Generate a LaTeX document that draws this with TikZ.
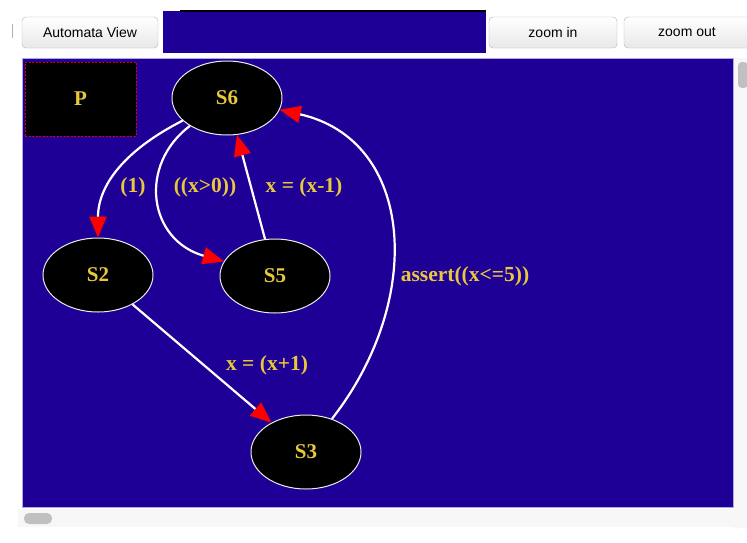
\documentclass[tikz,border=0pt]{standalone}
\usepackage{fontspec}
\setmainfont{Liberation Serif}
\newfontfamily\uifont{Liberation Sans}
\usetikzlibrary{arrows.meta,shapes.geometric}
\definecolor{bgblue}{RGB}{31,0,150}
\definecolor{lab}{RGB}{232,200,60}
\definecolor{frame}{RGB}{176,168,224}
\definecolor{barbg}{RGB}{247,247,247}
\definecolor{thumb}{RGB}{192,192,192}
\begin{document}
\begin{tikzpicture}[x=1pt,y=-1pt,
  state/.style={ellipse, fill=black, draw=white!85!gray, line width=1pt,
    minimum width=110pt, minimum height=74pt, inner sep=0pt, text=lab,
    font=\bfseries\fontsize{21}{23}\selectfont},
  edge/.style={white, line width=2.2pt,
    -{Triangle[length=21pt,width=17pt,color=red,fill=red]}},
  lbl/.style={text=lab, font=\bfseries\fontsize{21.5}{23}\selectfont, inner sep=0pt},
  btn/.style={rounded corners=4pt, draw=gray!60, top color=white, bottom color=gray!18,
    font=\uifont\fontsize{14}{16}\selectfont, minimum height=31pt, inner sep=0pt}]
\useasboundingbox (0,0) rectangle (747,542);
\fill[white] (0,0) rectangle (747,542);
% toolbar
\draw[gray!60, line width=1pt] (12,24) -- (12,38);
\node[btn, minimum width=136pt] (bav) at (90,32.5) {Automata View};
\fill[bgblue] (163,11) rectangle (486,53);
\fill[black] (180,9.5) rectangle (486,12);
\node[btn, minimum width=128pt] (bzi) at (553,32.5) {zoom in};
\node[btn, minimum width=130pt] (bzo) at (689,32.5) {};
\node[font=\uifont\fontsize{14}{16}\selectfont] (tzo) at (687,32.5) {zoom out};
% scroll bars
\fill[barbg] (734,58) rectangle (747,528);
\fill[barbg] (18,509) rectangle (734,527);
\fill[thumb, rounded corners=4pt] (738,62) rectangle (748,88);
\fill[thumb, rounded corners=5pt] (24,513) rectangle (52,524);
% canvas
\fill[bgblue] (22,58) rectangle (733,507);
\draw[frame, line width=0.8pt] (22,58) rectangle (733,507);
% P box
\node[draw=red!85!black, dash pattern=on 2pt off 1.5pt, line width=0.8pt, fill=black,
  minimum width=111pt, minimum height=74pt, text=lab, font=\bfseries\fontsize{21}{23}\selectfont] (p) at (80.5,99) {P};
% states
\node[state] (s6) at (227,98) {S6};
\node[state] (s2) at (98,275) {S2};
\node[state] (s5) at (275,276) {S5};
\node[state] (s3) at (306,452) {S3};
% edges
\draw[edge] (s6) .. controls (125,150) and (98,185) .. (s2);
\draw[edge] (s6) .. controls (138,165) and (148,240) .. (s5);
\draw[edge] (s5) -- (s6);
\draw[edge] (s2) -- (s3);
\draw[edge] (s3) .. controls (425,300) and (415,140) .. (s6);
% labels
\node[lbl] (l1) at (133,187) {(1)};
\node[lbl] (l2) at (205,187) {((x>0))};
\node[lbl] (l3) at (304,187) {x = (x-1)};
\node[lbl] (l4) at (267,365) {x = (x+1)};
\node[lbl] (l5) at (465,276) {assert((x<=5))};
\end{tikzpicture}
\end{document}
